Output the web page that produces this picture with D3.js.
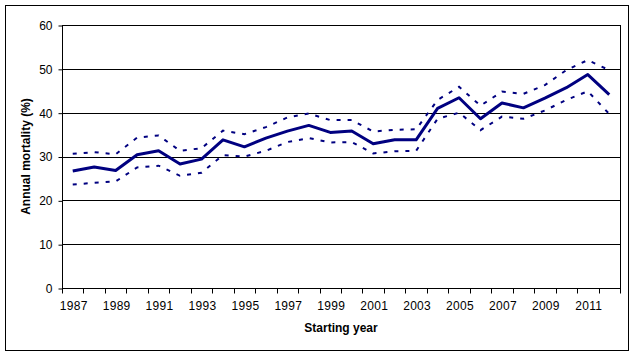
<!DOCTYPE html>
<html>
<head>
<meta charset="utf-8">
<script src="https://cdn.jsdelivr.net/npm/d3@7"></script>
<style>
  html, body { margin: 0; padding: 0; background: #fff; }
  svg { display: block; }
  text { font-family: "Liberation Sans", Arial, sans-serif; fill: #000; }
</style>
</head>
<body>
<svg id="chart" width="634" height="355"></svg>
<script>
const years = [1987,1988,1989,1990,1991,1992,1993,1994,1995,1996,1997,1998,1999,2000,2001,2002,2003,2004,2005,2006,2007,2008,2009,2010,2011,2012];
const mortality = [26.7,27.6,26.8,30.4,31.3,28.3,29.4,33.8,32.2,34.2,35.8,37.1,35.5,35.8,32.9,33.8,33.8,41.0,43.4,38.6,42.2,41.1,43.3,45.7,48.7,44.1];
const upperCI = [30.6,31.0,30.5,34.3,34.8,31.3,31.9,35.9,35.1,36.7,38.9,39.8,38.3,38.3,35.7,36.1,36.2,42.9,45.9,41.6,44.8,44.3,46.3,49.7,52.0,49.7];
const lowerCI = [23.6,24.0,24.3,27.5,27.9,25.6,26.3,30.3,30.0,31.3,33.3,34.2,33.2,33.3,30.7,31.2,31.3,38.6,40.0,36.0,39.1,38.6,40.5,42.9,44.9,39.7];
const yTicks = [0,10,20,30,40,50,60];
const xLabelYears = [1987,1989,1991,1993,1995,1997,1999,2001,2003,2005,2007,2009,2011];
const xTitle = "Starting year";
const yTitle = "Annual mortality (%)";

(function () {
const svg = d3.select("#chart");
const pL = 62, pR = 620, pT = 25, pB = 288;

// outer border
svg.append("rect").attr("x", 5.5).attr("y", 5.5).attr("width", 623).attr("height", 345)
  .attr("fill", "none").attr("stroke", "#000").attr("stroke-width", 1);

const x = d3.scaleBand().domain(years).range([pL, pR]).padding(0);
const y = d3.scaleLinear().domain([0, 60]).range([pB, pT]);

// gridlines
svg.append("g").selectAll("line").data(yTicks.filter(d => d > 0)).join("line")
  .attr("x1", pL).attr("x2", pR)
  .attr("y1", d => Math.round(y(d)) + 0.5).attr("y2", d => Math.round(y(d)) + 0.5)
  .attr("stroke", "#000").attr("stroke-width", 1);

// right border of plot area
svg.append("line").attr("x1", pR + 0.5).attr("x2", pR + 0.5).attr("y1", pT).attr("y2", pB)
  .attr("stroke", "#000");

// Y axis
const yAxis = svg.append("g").attr("transform", `translate(${pL + 0.5},0.5)`)
  .call(d3.axisLeft(y).tickValues(yTicks).tickSize(4).tickPadding(6).tickFormat(d3.format("d")));
yAxis.select(".domain").remove();
yAxis.selectAll("line").attr("stroke", "#000");
yAxis.selectAll("text").attr("font-size", 12).style("font-family", "Liberation Sans, Arial, sans-serif");
svg.append("line").attr("x1", pL + 0.5).attr("x2", pL + 0.5).attr("y1", pT).attr("y2", pB + 1).attr("stroke", "#000");

// X axis with ticks at category boundaries
const xg = svg.append("g").attr("transform", `translate(0,${Math.round(pB) + 0.5})`);
xg.append("line").attr("x1", pL).attr("x2", pR + 1).attr("y1", 0).attr("y2", 0).attr("stroke", "#000");
const boundaries = years.map(d => x(d)).concat([pR]);
xg.selectAll("line.tk").data(boundaries).join("line").attr("class", "tk")
  .attr("x1", d => Math.round(d) + 0.5).attr("x2", d => Math.round(d) + 0.5)
  .attr("y1", 0).attr("y2", 5).attr("stroke", "#000");
xg.selectAll("text").data(xLabelYears).join("text")
  .attr("x", d => x(d) + x.bandwidth() / 2 + 1).attr("y", 21)
  .attr("text-anchor", "middle").attr("font-size", 12).attr("letter-spacing", 0.3).text(d => d);

// lines
const lineGen = d3.line().x((d, i) => x(years[i]) + x.bandwidth() / 2).y(d => y(d));
svg.append("path").datum(upperCI).attr("d", lineGen).attr("fill", "none")
  .attr("stroke", "#000080").attr("stroke-width", 2).attr("stroke-dasharray", "4,7");
svg.append("path").datum(lowerCI).attr("d", lineGen).attr("fill", "none")
  .attr("stroke", "#000080").attr("stroke-width", 2).attr("stroke-dasharray", "4,7");
svg.append("path").datum(mortality).attr("d", lineGen).attr("fill", "none")
  .attr("stroke", "#000080").attr("stroke-width", 3).attr("stroke-linejoin", "round");

// titles
svg.append("text").attr("x", (pL + pR) / 2).attr("y", 332).attr("text-anchor", "middle")
  .attr("font-size", 12).attr("font-weight", "bold").text(xTitle);
svg.append("text").attr("transform", `translate(30,${(pT + pB) / 2}) rotate(-90)`)
  .attr("text-anchor", "middle").attr("font-size", 12).attr("font-weight", "bold").text(yTitle);
})();
</script>
</body>
</html>
